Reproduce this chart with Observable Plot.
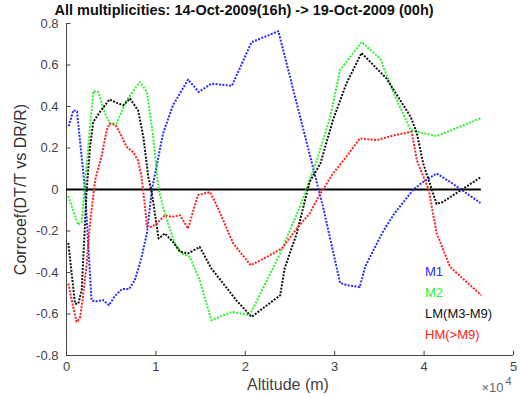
<!DOCTYPE html>
<html><head><meta charset="utf-8">
<script src="https://cdn.jsdelivr.net/npm/d3@7"></script>
<script src="https://cdn.jsdelivr.net/npm/@observablehq/plot@0.6"></script>
<style>body{margin:0;background:#fff}</style>
</head><body><div id="chart"></div>
<script>
// Altitude in units of 10^4 m
const m1Alt = [0.025,0.076,0.117,0.207,0.28,0.32,0.41,0.475,0.54,0.62,0.70,0.765,0.84,0.90,0.956,1.08,1.19,1.36,1.48,1.62,1.85,2.07,2.37,2.82,2.87,3.06,3.13,3.28,3.34,3.53,3.67,3.88,3.99,4.14,4.29,4.63];
const m1Val = [0.305,0.382,0.377,0,-0.533,-0.54,-0.533,-0.558,-0.514,-0.48,-0.48,-0.437,-0.325,-0.21,0,0.27,0.405,0.53,0.47,0.51,0.50,0.71,0.763,0,-0.084,-0.45,-0.46,-0.47,-0.373,-0.21,-0.114,0,0.037,0.077,0.037,-0.065];
const m2Alt = [0.02,0.13,0.17,0.2,0.30,0.356,0.43,0.487,0.56,0.673,0.82,0.90,0.97,1.03,1.10,1.21,1.29,1.38,1.49,1.62,1.85,2.05,2.39,2.61,2.80,2.95,3.06,3.30,3.51,3.67,3.85,4.14,4.64];
const m2Val = [-0.032,-0.17,-0.156,0,0.474,0.47,0.366,0.318,0.318,0.43,0.518,0.47,0.253,0,-0.116,-0.26,-0.308,-0.325,-0.437,-0.63,-0.59,-0.606,-0.308,-0.084,0.141,0.35,0.575,0.711,0.63,0.454,0.286,0.257,0.345];
const lmAlt = [0.02,0.095,0.132,0.17,0.226,0.263,0.30,0.375,0.48,0.58,0.635,0.71,0.80,0.86,0.915,0.953,1.03,1.10,1.19,1.27,1.36,1.49,1.62,1.90,2.07,2.39,2.44,2.575,2.72,2.84,2.98,3.13,3.30,3.58,3.85,3.92,3.99,4.14,4.21,4.63];
const lmVal = [-0.257,-0.55,-0.55,-0.485,0,0.205,0.326,0.374,0.434,0.414,0.406,0.438,0.382,0.253,0.06,-0.012,-0.236,-0.212,-0.252,-0.30,-0.308,-0.277,-0.38,-0.534,-0.614,-0.51,-0.38,-0.212,0.037,0.125,0.334,0.51,0.658,0.535,0.35,0.27,0.125,-0.07,-0.06,0.058];
const hmAlt = [0.02,0.058,0.114,0.15,0.18,0.226,0.263,0.32,0.394,0.45,0.48,0.55,0.60,0.673,0.747,0.80,0.84,0.878,0.90,0.953,1.01,1.10,1.18,1.27,1.36,1.47,1.605,1.68,1.865,2.06,2.24,2.41,2.575,2.72,2.82,2.98,3.13,3.28,3.47,3.67,3.86,3.92,4.05,4.14,4.29,4.64];
const hmVal = [-0.453,-0.533,-0.638,-0.62,-0.533,-0.357,-0.164,0.045,0.165,0.286,0.318,0.31,0.27,0.205,0.18,0.14,0.06,-0.084,-0.18,-0.18,-0.164,-0.124,-0.132,-0.124,-0.188,-0.027,-0.012,-0.076,-0.26,-0.365,-0.325,-0.284,-0.188,-0.116,-0.035,0.077,0.157,0.246,0.238,0.262,0.278,0.14,0,-0.21,-0.373,-0.51];

const seriesNames = ["M1","M2","LM(M3-M9)","HM(>M9)"];
const seriesColors = ["#2a2aff","#2ef02e","#111111","#ff2020"];
const xTicks = [0,1,2,3,4,5];
const yTicks = [-0.8,-0.6,-0.4,-0.2,0,0.2,0.4,0.6,0.8];
const titleText = "All multiplicities: 14-Oct-2009(16h) -> 19-Oct-2009 (00h)";

const seriesData = [[m1Alt,m1Val],[m2Alt,m2Val],[lmAlt,lmVal],[hmAlt,hmVal]].map(([a,v],k) =>
  a.map((x,i) => ({alt:x, r:v[i], s:seriesNames[k]})));
const xMax = d3.max(seriesData.flat(), d => d.alt);
const font = "Liberation Sans, Arial, sans-serif";
const axisColor = "#444";

const lines = seriesData.map((data,k) => Plot.line(data, {
  x:"alt", y:"r", stroke: seriesColors[k], strokeWidth: 2,
  strokeDasharray: "2,1.4", strokeLinecap: "butt", curve: "linear"
}));

const chart = Plot.plot({
  width: 520, height: 396,
  marginLeft: 66, marginRight: 7, marginTop: 23, marginBottom: 41,
  style: {fontFamily: font, background: "#fff"},
  x: {domain: [0,5], axis: null},
  y: {domain: [-0.8,0.8], axis: null},
  marks: [
    Plot.axisY({ticks: yTicks, tickSize: 0, tickPadding: 8, fontSize: 13, color: axisColor, label: null,
      tickFormat: d => String(+d.toFixed(1))}),
    Plot.axisX({ticks: xTicks, tickSize: 0, tickPadding: 6, fontSize: 13, color: axisColor, label: null,
      tickFormat: d => String(d)}),
    Plot.ruleX([0], {y1: -0.8, y2: 0.8, stroke: axisColor, strokeWidth: 1}),
    Plot.ruleY([-0.8], {x1: 0, x2: 5, stroke: axisColor, strokeWidth: 1}),
    Plot.ruleY(yTicks, {x1: 0, x2: 0.05, stroke: axisColor}),
    Plot.ruleX(xTicks, {y1: -0.8, y2: -0.78, stroke: axisColor}),
    Plot.ruleY([0], {x1: 0, x2: xMax, stroke: "#000", strokeWidth: 2}),
    ...lines,
    Plot.text([titleText], {frameAnchor: "top", dx: -46, dy: -13, lineAnchor: "middle",
      fontSize: 14.5, fontWeight: "bold", fill: "#111"}),
    Plot.text(["Corrcoef(DT/T vs DR/R)"], {frameAnchor: "left", dx: -46, rotate: -90,
      textAnchor: "middle", lineAnchor: "middle", fontSize: 16, fill: "#333"}),
    Plot.text(["Altitude (m)"], {frameAnchor: "bottom", dy: 29, dx: -2, lineAnchor: "middle",
      fontSize: 16, fill: "#444"}),
    Plot.text(["\u00d710"], {frameAnchor: "bottom-right", dx: -10, dy: 32, textAnchor: "end",
      lineAnchor: "middle", fontSize: 13, fill: "#666"}),
    Plot.text(["4"], {frameAnchor: "bottom-right", dx: -8, dy: 26, textAnchor: "start",
      lineAnchor: "middle", fontSize: 11, fill: "#666"}),
    Plot.text(seriesNames, {x: 4.01, y: (d,i) => -0.397 - i*0.1015, textAnchor: "start",
      fill: (d,i) => seriesColors[i], fontSize: 13})
  ]
});
document.getElementById("chart").append(chart);
</script>
</body></html>
